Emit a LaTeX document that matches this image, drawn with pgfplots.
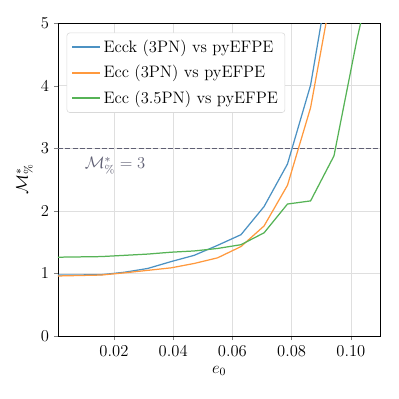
\documentclass[border=0pt]{standalone}
\usepackage{pgfplots}
\pgfplotsset{compat=1.18}

\definecolor{cblue}{RGB}{76,146,195}
\definecolor{corange}{RGB}{255,153,62}
\definecolor{cgreen}{RGB}{86,179,86}
\definecolor{cref}{RGB}{95,95,115}

\begin{document}
\begin{tikzpicture}[font=\large]
\begin{axis}[
  at={(0,0)}, anchor=south west,
  scale only axis,
  width=233pt, height=226pt,
  xmin=0.0011, xmax=0.11,
  ymin=0, ymax=5,
  xtick={0.02,0.04,0.06,0.08,0.10},
  xticklabels={0.02,0.04,0.06,0.08,0.10},
  ytick={0,1,2,3,4,5},
  tick label style={font=\large},
  label style={font=\large},
  tick align=outside,
  xtick pos=bottom, ytick pos=left,
  major tick length=3pt,
  grid=major,
  major grid style={gray!25, line width=0.5pt},
  xlabel={$e_0$},
  ylabel={$\mathcal{M}^*_{\%}$},
  ylabel style={yshift=-1pt},
  legend cell align=left,
  legend style={draw=gray!30, rounded corners=2pt, font=\large,
    inner xsep=3pt, inner ysep=3pt, row sep=4pt, at={(0.027,0.97)}, anchor=north west},
  legend image code/.code={\draw[line width=1.5pt] (0cm,0cm) -- (0.7cm,0cm);},
  every axis plot/.append style={line width=0.9pt},
]
\addplot[cblue] coordinates {
  (0.001,0.974) (0.0157,0.98) (0.0236,1.02) (0.0314,1.08) (0.0393,1.19)
  (0.0471,1.29) (0.0550,1.45) (0.0629,1.62) (0.0707,2.07) (0.0786,2.75)
  (0.0864,4.01) (0.0943,6.2)
};
\addlegendentry{Ecck (3PN) vs pyEFPE}
\addplot[corange] coordinates {
  (0.001,0.96) (0.0157,0.975) (0.0236,1.01) (0.0314,1.05) (0.0393,1.09)
  (0.0471,1.16) (0.0550,1.25) (0.0629,1.43) (0.0707,1.76) (0.0786,2.41)
  (0.0864,3.65) (0.0943,5.7)
};
\addlegendentry{Ecc (3PN) vs pyEFPE}
\addplot[cgreen] coordinates {
  (0.001,1.26) (0.0157,1.27) (0.0236,1.29) (0.0314,1.31) (0.0393,1.34)
  (0.0471,1.36) (0.0550,1.40) (0.0629,1.46) (0.0707,1.65) (0.0786,2.11)
  (0.0864,2.16) (0.0943,2.88) (0.1021,4.75) (0.11,6.4)
};
\addlegendentry{Ecc (3.5PN) vs pyEFPE}
\addplot[cref, line width=0.8pt, dash pattern=on 3.5pt off 1.8pt, forget plot] coordinates {(0.0011,3) (0.11,3)};
\node[anchor=west, text=cref, font=\large] at (axis cs:0.0085,2.72) {$\mathcal{M}^*_{\%}=3$};
\end{axis}
\pgfresetboundingbox
\path (-41.9pt,-45.5pt) rectangle (246.4pt,242.8pt);
\end{tikzpicture}
\end{document}
